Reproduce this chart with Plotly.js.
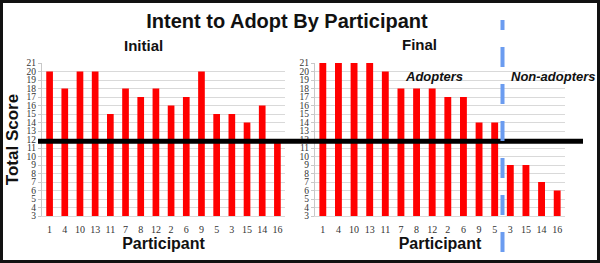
<!DOCTYPE html>
<html>
<head>
<meta charset="utf-8">
<script src="https://cdn.plot.ly/plotly-3.0.1.min.js"></script>
<style>
  html, body { margin: 0; padding: 0; background: #fff; }
  #wrap { position: relative; width: 600px; height: 263px; }
  #chart { position: absolute; left: 0; top: 0; width: 600px; height: 263px; }
  #frame { position: absolute; left: 0; top: 0; width: 600px; height: 263px; box-sizing: border-box; border: 3px solid #111; pointer-events: none; }
</style>
</head>
<body>
<div id="wrap"><div id="chart"></div><div id="frame"></div></div>
<script>
// ---- data ----
const participants = ["1","4","10","13","11","7","8","12","2","6","9","5","3","15","14","16"];
const initialScores = [20,18,20,20,15,18,17,18,16,17,20,15,15,14,16,12];
const finalScores   = [21,21,21,21,20,18,18,18,17,17,14,14,9,9,7,6];
const yTicks = [3,4,5,6,7,8,9,10,11,12,13,14,15,16,17,18,19,20,21];
const thresholdScore = 11.8;
const adopterSplit = 11.5; // between participant 5 and 3 in final ordering

const W = 600, H = 263;
const px = v => v / W;
const py = v => 1 - v / H;

const tickFont = {family: "Liberation Serif, DejaVu Serif, serif", size: 10, color: "#333"};
const yTickFont = {family: "Liberation Serif, DejaVu Serif, serif", size: 9.5, color: "#333"};
const boldFont = {family: "Liberation Sans, Arial, sans-serif", color: "#111"};

const traces = [
  {type: "bar", x: participants, y: initialScores, xaxis: "x", yaxis: "y",
   marker: {color: "#ff0000"}, name: "Initial", hoverinfo: "x+y"},
  {type: "bar", x: participants, y: finalScores, xaxis: "x2", yaxis: "y2",
   marker: {color: "#ff0000"}, name: "Final", hoverinfo: "x+y"}
];

const xCommon = {
  type: "category", tickfont: tickFont, showgrid: false, zeroline: false,
  showline: true, linecolor: "#d9d9d9", linewidth: 1,
  ticks: "outside", ticklen: 4, tickcolor: "rgba(0,0,0,0)",
  automargin: false, fixedrange: true
};
const yCommon = {
  range: [3, 21], tickvals: yTicks, tickfont: yTickFont,
  showgrid: true, gridcolor: "#d9d9d9", gridwidth: 1,
  showline: true, linecolor: "#c8c8c8", linewidth: 1,
  ticks: "outside", ticklen: 3, tickcolor: "#c8c8c8",
  zeroline: false, automargin: false, fixedrange: true
};

const layout = {
  width: W, height: H,
  margin: {l: 0, r: 0, t: 0, b: 0},
  paper_bgcolor: "#fff", plot_bgcolor: "#fff",
  showlegend: false, bargap: 0.56,
  title: {text: "<b>Intent to Adopt By Participant</b>", font: Object.assign({size: 20}, boldFont),
          x: px(287), xanchor: "center", y: py(21), yanchor: "middle", xref: "paper", yref: "container"},
  xaxis: Object.assign({}, xCommon, {domain: [px(42), px(285)], anchor: "y",
    title: {text: "<b>Participant</b>", font: Object.assign({size: 16}, boldFont), standoff: 2}}),
  xaxis2: Object.assign({}, xCommon, {domain: [px(315), px(565)], anchor: "y2",
    title: {text: "<b>Participant</b>", font: Object.assign({size: 16}, boldFont), standoff: 2}}),
  yaxis: Object.assign({}, yCommon, {domain: [py(216), py(63)], anchor: "x",
    title: {text: "<b>Total Score</b>", font: Object.assign({size: 17}, boldFont), standoff: 3}}),
  yaxis2: Object.assign({}, yCommon, {domain: [py(216), py(63)], anchor: "x2"}),
  annotations: [
    {text: "<b>Initial</b>", xref: "paper", yref: "paper", x: px(143), y: py(45),
     showarrow: false, font: Object.assign({size: 15}, boldFont), xanchor: "center", yanchor: "middle"},
    {text: "<b>Final</b>", xref: "paper", yref: "paper", x: px(419), y: py(44),
     showarrow: false, font: Object.assign({size: 15}, boldFont), xanchor: "center", yanchor: "middle"},
    {text: "<b><i>Adopters</i></b>", xref: "paper", yref: "paper", x: px(434), y: py(77),
     showarrow: false, font: Object.assign({size: 13}, boldFont), xanchor: "center", yanchor: "middle"},
    {text: "<b><i>Non-adopters</i></b>", xref: "paper", yref: "paper", x: px(553), y: py(77),
     showarrow: false, font: Object.assign({size: 13}, boldFont), xanchor: "center", yanchor: "middle"}
  ],
  shapes: [
    {type: "line", xref: "paper", yref: "y", x0: px(38), x1: px(583), y0: thresholdScore, y1: thresholdScore,
     line: {color: "#000", width: 5}},
    {type: "line", xref: "x2", yref: "paper", x0: adopterSplit, x1: adopterSplit, y0: py(252), y1: py(20),
     line: {color: "#6b9cf0", width: 4, dash: "20px,17px"}}
  ]
};

Plotly.newPlot("chart", traces, layout, {staticPlot: true, displayModeBar: false});
</script>
</body>
</html>
